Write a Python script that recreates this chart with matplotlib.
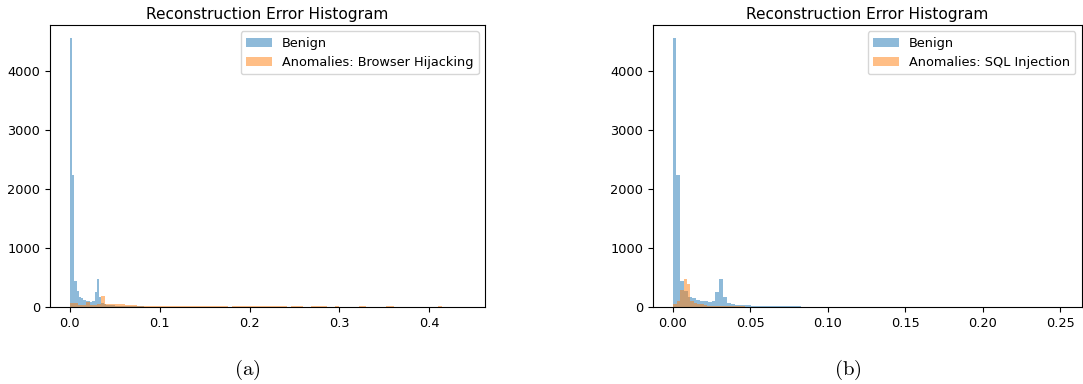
import numpy as np
import matplotlib
matplotlib.use('Agg')
import matplotlib.pyplot as plt

plt.rcParams['mathtext.fontset'] = 'cm'

TITLE = 'Reconstruction Error Histogram'

# benign reconstruction errors, 100 bins over [0, 0.2514]
benign_range = (0.0, 0.2514)
benign_counts = [4550, 2240, 440, 280, 175, 160, 120, 110, 100, 92,
                 110, 260, 480, 170, 70, 55, 45, 40, 38, 35,
                 22, 22, 20, 20, 20, 18, 18, 18, 16, 16,
                 15, 15, 14, 2, 1, 1, 0, 1, 0, 1,
                 0, 0, 1, 0, 0, 0, 1, 0, 0, 0,
                 0, 0, 0, 1, 0, 0, 0, 0, 0, 0,
                 0, 0, 0, 0, 0, 0, 0, 0, 0, 0,
                 0, 0, 0, 0, 0, 0, 0, 0, 0, 0,
                 0, 0, 0, 0, 0, 0, 0, 0, 0, 0,
                 0, 0, 0, 0, 0, 0, 0, 0, 0, 1]

# browser hijacking anomalies, 100 bins over [0, 0.44]
hijack_range = (0.0, 0.44)
hijack_counts = [80, 80, 40, 40, 85, 40, 40, 60, 190, 55,
                 55, 55, 55, 50, 35, 35, 35, 30, 22, 22,
                 20, 22, 20, 20, 22, 20, 20, 20, 20, 20,
                 20, 20, 20, 20, 20, 20, 20, 20, 20, 20,
                 0, 20, 20, 20, 20, 20, 20, 20, 20, 20,
                 20, 20, 20, 20, 20, 0, 20, 20, 20, 0,
                 0, 20, 20, 20, 18, 0, 0, 18, 0, 0,
                 0, 0, 0, 18, 18, 0, 0, 0, 0, 0,
                 18, 18, 0, 0, 0, 0, 0, 0, 0, 0,
                 0, 0, 0, 18, 0, 0, 0, 0, 0, 1]

# sql injection anomalies, 100 bins over [0.0005, 0.2205]
sql_range = (0.0005, 0.2205)
sql_counts = [60, 110, 290, 475, 390, 110, 65, 55, 50, 35,
              30, 28, 25, 22, 22, 22, 20, 20, 20, 18,
              18, 1, 0, 1, 0, 0, 1, 0, 0, 0,
              0, 0, 0, 0, 0, 0, 0, 0, 0, 0,
              0, 0, 0, 0, 0, 0, 0, 0, 0, 0,
              0, 0, 0, 0, 0, 0, 0, 0, 0, 0,
              0, 0, 0, 0, 0, 0, 0, 0, 0, 0,
              0, 0, 0, 0, 0, 0, 0, 0, 0, 0,
              0, 0, 0, 0, 0, 0, 0, 0, 0, 0,
              0, 0, 0, 0, 0, 0, 0, 0, 0, 1]


def drawHist(ax, counts, rng, label):
    edges = np.linspace(rng[0], rng[1], len(counts) + 1)
    centers = (edges[:-1] + edges[1:]) / 2
    ax.hist(centers, bins=edges, weights=counts, alpha=0.5, label=label)


def createPanel(ax, anomaly_counts, anomaly_range, anomaly_label):
    drawHist(ax, benign_counts, benign_range, 'Benign')
    drawHist(ax, anomaly_counts, anomaly_range, anomaly_label)
    ax.set_title(TITLE, fontsize=11.1, pad=4)
    ax.tick_params(labelsize=9.3)
    ax.legend(loc='upper right', fontsize=9.3)


fig = plt.figure(figsize=(10.83, 3.84), dpi=100)
ax1 = fig.add_axes([0.0462, 0.1997, 0.4017, 0.7352])
ax2 = fig.add_axes([0.6030, 0.1997, 0.3960, 0.7352])

createPanel(ax1, hijack_counts, hijack_range, 'Anomalies: Browser Hijacking')
createPanel(ax2, sql_counts, sql_range, 'Anomalies: SQL Injection')

# sub-figure captions
fig.text(247 / 1083, 1 - 370 / 384, r'$\mathrm{(a)}$', ha='center', va='center', fontsize=15)
fig.text(848 / 1083, 1 - 370 / 384, r'$\mathrm{(b)}$', ha='center', va='center', fontsize=15)

fig.savefig('out.png', dpi=100)
